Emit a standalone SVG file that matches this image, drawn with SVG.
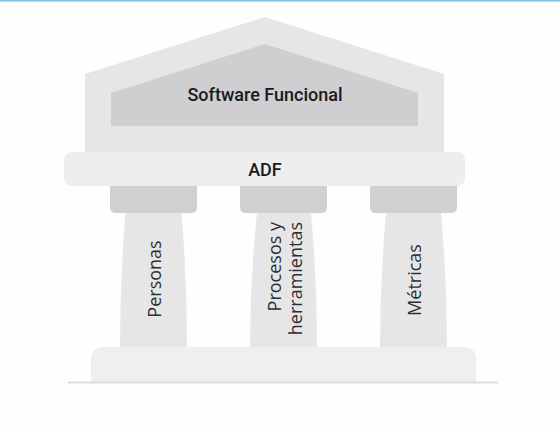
<svg xmlns="http://www.w3.org/2000/svg" width="560" height="433" viewBox="0 0 560 433">
  <style>
    .lbl { font-family: "Open Sans", "Noto Sans", "Liberation Sans", sans-serif; fill: #1a1a1c; }
    .title { font-family: Roboto, "Open Sans", "Liberation Sans", sans-serif; font-size: 18px; font-weight: 500; text-anchor: middle; }
    .col { font-size: 18px; font-weight: 400; fill: #2e2e30; }
    .cap { fill: #d0cfd2; }
    .shaft { fill: #e6e6e7; }
  </style>
  <rect x="0" y="0" width="560" height="433" fill="#fefefe"/>
  <rect id="topline" x="0" y="0" width="560" height="1.6" fill="#86c2e6"/>

  <g id="roof">
    <polygon points="85,152 85,74 265,17 444,74 444,152" fill="#e6e6e7"/>
    <polygon points="111,126 111,93 265,44 418,93 418,126" fill="#cfced1"/>
    <text class="lbl title" x="265" y="101">Software Funcional</text>
  </g>

  <g id="capitals">
    <path class="cap" d="M110,178 H197 V207 Q197,213 191,213 H116 Q110,213 110,207 Z"/>
    <path class="cap" d="M240,178 H327 V207 Q327,213 321,213 H246 Q240,213 240,207 Z"/>
    <path class="cap" d="M370,178 H457 V207 Q457,213 451,213 H376 Q370,213 370,207 Z"/>
  </g>

  <g id="adf">
    <rect x="64" y="152" width="401" height="34" rx="8" fill="#eeeeef"/>
    <text class="lbl title" x="265" y="176">ADF</text>
  </g>

  <g id="personas">
    <path class="shaft" d="M125.5,213 Q120,280 120,347 H187 Q187,280 181.5,213 Z"/>
    <text class="lbl col" transform="translate(161,279) rotate(-90)" text-anchor="middle">Personas</text>
  </g>

  <g id="procesos">
    <path class="shaft" d="M257,213 Q250,280 250,347 H317 Q317,280 311,213 Z"/>
    <text class="lbl col" transform="translate(281,222) rotate(-90)" text-anchor="end">Procesos y</text>
    <text class="lbl col" transform="translate(302,222) rotate(-90)" text-anchor="end">herramientas</text>
  </g>

  <g id="metricas">
    <path class="shaft" d="M386,213 Q380,280 380,347 H447 Q447,280 441,213 Z"/>
    <text class="lbl col" transform="translate(421,280) rotate(-90)" text-anchor="middle">Métricas</text>
  </g>

  <g id="base">
    <path d="M91,382 V360 Q91,347 104,347 H463 Q476,347 476,360 V382 Z" fill="#efeff0"/>
    <line x1="68" y1="382.5" x2="498" y2="382.5" stroke="#dcdcde" stroke-width="2"/>
  </g>

  <g id="connectors"></g>
</svg>
